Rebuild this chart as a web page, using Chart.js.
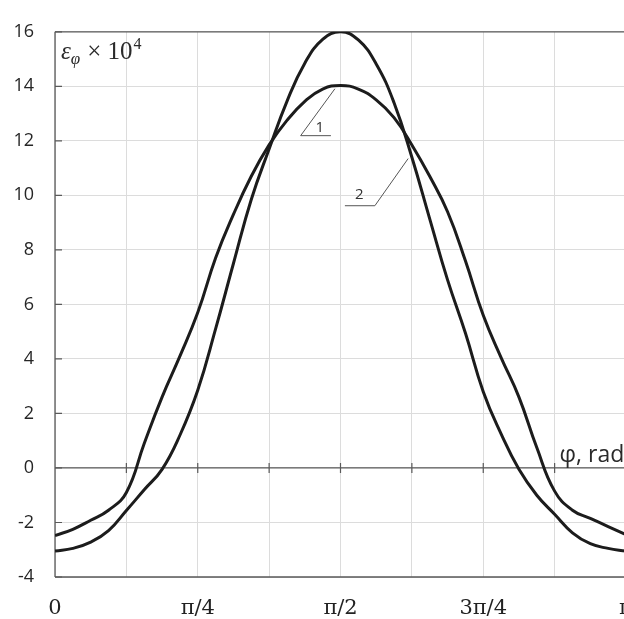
<!DOCTYPE html>
<html>
<head>
<meta charset="utf-8">
<script src="https://cdn.jsdelivr.net/npm/chart.js@4"></script>
<style>
  html, body { margin: 0; padding: 0; background: #fff; overflow: hidden; }
  #wrap { width: 660px; height: 619px; }
</style>
</head>
<body>
<div id="wrap"><canvas id="c" width="660" height="619"></canvas></div>
<script>
// x samples in units of pi/32 (0 .. pi)
const phiSteps = [0,1,2,3,4,5,6,7,8,9,10,11,12,13,14,15,16,17,18,19,20,21,22,23,24,25,26,27,28,29,30,31,32];
// curve "1" (peak 14)
const series1 = [-2.48,-2.25,-1.92,-1.55,-0.9,0.9,2.6,4.1,5.7,7.7,9.3,10.7,11.85,12.75,13.45,13.9,14.03,13.9,13.5,12.85,11.85,10.7,9.4,7.6,5.6,4.05,2.6,0.75,-0.85,-1.55,-1.85,-2.15,-2.45];
// curve "2" (peak 16)
const series2 = [-3.05,-2.95,-2.72,-2.3,-1.56,-0.8,-0.05,1.2,2.85,5.1,7.5,9.85,11.7,13.45,14.85,15.72,16.0,15.7,14.82,13.4,11.4,9.14,6.9,4.95,2.8,1.25,-0.05,-1.0,-1.7,-2.38,-2.78,-2.95,-3.05];
// x tick marks in units of pi/8, with labels
const xTickSteps = [0,1,2,3,4,5,6,7,8];
const xTickLabels = ['0','','π/4','','π/2','','3π/4','','π'];
const yMin = -4, yMax = 16, yStep = 2;
// leader-line annotations (x in units of pi, y in data units)
const leader1 = { pts: [[0.4902,13.91],[0.4302,12.19],[0.4832,12.19]], text: '1', at: [0.4639,12.49] };
const leader2 = { pts: [[0.6185,11.35],[0.5602,9.62],[0.5077,9.62]], text: '2', at: [0.5327,10.04] };
const xAxisTitlePos = 7.07; // in units of pi/8

const PI = Math.PI;
const toXY = (ys) => ys.map((v, i) => ({ x: phiSteps[i] * PI / 32, y: v }));

const decor = {
  id: 'decor',
  beforeDatasetsDraw(chart) {
    const { ctx, chartArea: a, scales: { x, y } } = chart;
    ctx.save();
    ctx.strokeStyle = '#5a5a5a';
    ctx.lineWidth = 1.3;
    ctx.beginPath();
    ctx.moveTo(a.left, a.top); ctx.lineTo(a.right, a.top);
    ctx.moveTo(a.left, a.top); ctx.lineTo(a.left, a.bottom);
    ctx.moveTo(a.left, a.bottom); ctx.lineTo(a.right, a.bottom);
    ctx.stroke();
    const y0 = y.getPixelForValue(0);
    ctx.beginPath();
    ctx.moveTo(a.left, y0); ctx.lineTo(a.right, y0);
    ctx.stroke();
    ctx.lineWidth = 1.2;
    ctx.beginPath();
    xTickSteps.forEach(k => {
      if (k === 0) return;
      const px = x.getPixelForValue(k * PI / 8);
      ctx.moveTo(px, y0 - 5); ctx.lineTo(px, y0 + 5);
    });
    for (let v = yMin; v <= yMax; v += yStep) {
      const py = y.getPixelForValue(v);
      ctx.moveTo(a.left, py); ctx.lineTo(a.left + 7, py);
    }
    ctx.stroke();
    ctx.restore();
  },
  afterDatasetsDraw(chart) {
    const { ctx, chartArea: a, scales: { x, y } } = chart;
    ctx.save();
    ctx.strokeStyle = '#555';
    ctx.lineWidth = 1;
    ctx.fillStyle = '#333';
    ctx.font = '15px "Open Sans", sans-serif';
    ctx.textAlign = 'center';
    ctx.textBaseline = 'middle';
    [leader1, leader2].forEach(L => {
      ctx.beginPath();
      L.pts.forEach((p, i) => {
        const px = x.getPixelForValue(p[0] * PI), py = y.getPixelForValue(p[1]);
        if (i === 0) ctx.moveTo(px, py); else ctx.lineTo(px, py);
      });
      ctx.stroke();
      ctx.fillText(L.text, x.getPixelForValue(L.at[0] * PI), y.getPixelForValue(L.at[1]));
    });
    // y-axis title: ε_φ × 10^4
    ctx.textAlign = 'left';
    ctx.textBaseline = 'alphabetic';
    ctx.fillStyle = '#2a2a2a';
    let tx = a.left + 6, ty = a.top + 27;
    ctx.font = 'italic 25px "Liberation Serif", serif';
    ctx.fillText('ε', tx, ty); tx += ctx.measureText('ε').width;
    ctx.font = 'italic 17px "Liberation Serif", serif';
    ctx.fillText('φ', tx, ty + 5); tx += ctx.measureText('φ').width + 7;
    ctx.font = '25px "Liberation Serif", serif';
    ctx.fillText('× 10', tx, ty); tx += ctx.measureText('× 10').width + 1;
    ctx.font = '16px "Liberation Serif", serif';
    ctx.fillText('4', tx, ty - 10);
    // x-axis title
    ctx.font = '23px "Open Sans", sans-serif';
    ctx.fillStyle = '#2a2a2a';
    ctx.fillText('φ, rad', x.getPixelForValue(xAxisTitlePos * PI / 8), y.getPixelForValue(0) - 6);
    ctx.restore();
  }
};

new Chart(document.getElementById('c'), {
  type: 'line',
  data: {
    datasets: [
      { label: '1', data: toXY(series1), borderColor: '#1c1c1c', borderWidth: 3, pointRadius: 0, fill: false, tension: 0.45 },
      { label: '2', data: toXY(series2), borderColor: '#1c1c1c', borderWidth: 3, pointRadius: 0, fill: false, tension: 0.45 }
    ]
  },
  options: {
    responsive: false,
    devicePixelRatio: 1,
    animation: false,
    layout: { padding: { top: 25, right: 34, left: 0, bottom: 0 } },
    plugins: { legend: { display: false }, tooltip: { enabled: false } },
    scales: {
      x: {
        type: 'linear', min: 0, max: PI,
        afterBuildTicks(scale) { scale.ticks = xTickSteps.map(k => ({ value: k * PI / 8 })); },
        afterFit(scale) { scale.height = 42; },
        grid: { color: '#dcdcdc', lineWidth: 1, drawTicks: false },
        border: { display: false },
        ticks: {
          autoSkip: false, maxRotation: 0, padding: 19, color: '#222',
          font: { family: '"DejaVu Serif", serif', size: 21 },
          callback(value, index) { return xTickLabels[index]; }
        }
      },
      y: {
        min: yMin, max: yMax,
        afterBuildTicks(scale) {
          const t = [];
          for (let v = yMin; v <= yMax; v += yStep) t.push({ value: v });
          scale.ticks = t;
        },
        afterFit(scale) { scale.width = 55; },
        grid: { color: '#dcdcdc', lineWidth: 1, drawTicks: false },
        border: { display: false },
        ticks: {
          padding: 21, color: '#262626',
          font: { family: '"Open Sans", sans-serif', size: 18 }
        }
      }
    }
  },
  plugins: [decor]
});
</script>
</body>
</html>
